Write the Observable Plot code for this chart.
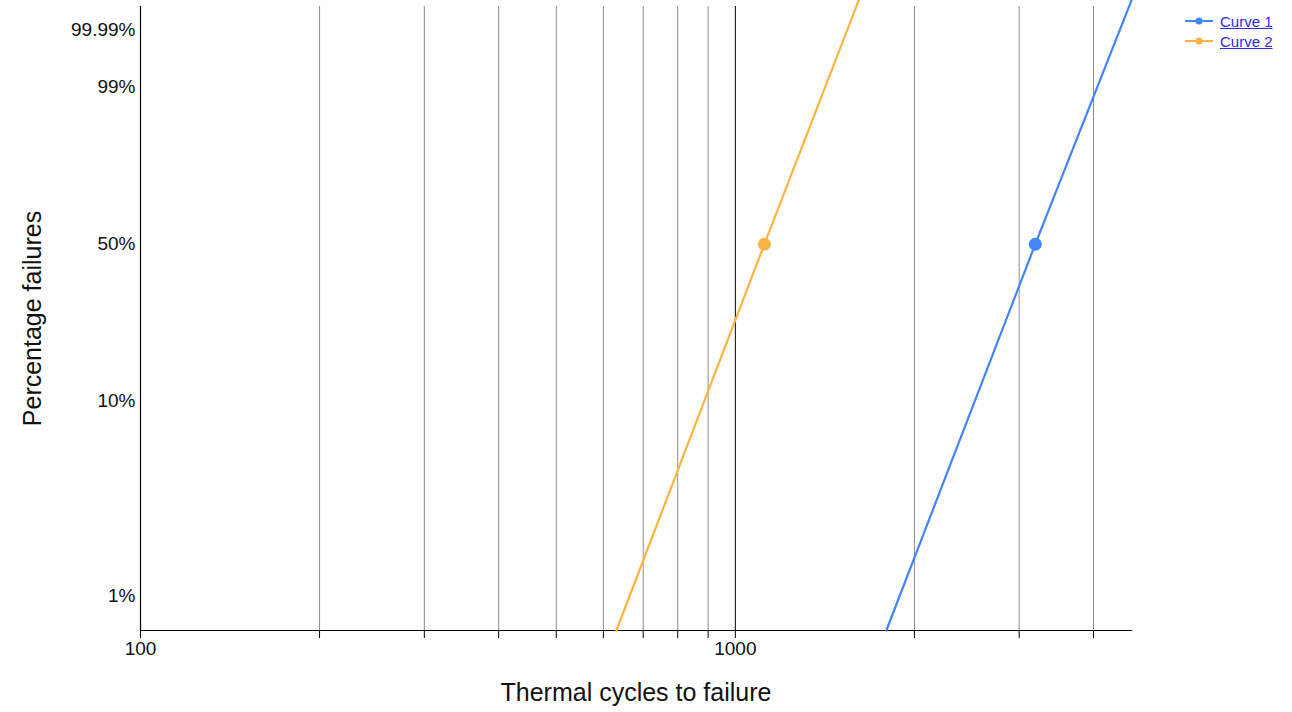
<!DOCTYPE html>
<html>
<head>
<meta charset="utf-8">
<script src="https://cdn.jsdelivr.net/npm/d3@7"></script>
<script src="https://cdn.jsdelivr.net/npm/@observablehq/plot@0.6"></script>
<style>
  html, body { margin: 0; padding: 0; background: #fff; }
  #wrap { position: relative; width: 1292px; height: 712px; font-family: "Liberation Sans", Arial, sans-serif; }
  #legend { position: absolute; left: 1185px; top: 11px; font-size: 15px; }
  .row { display: flex; align-items: center; height: 20px; }
  .row svg { margin-right: 7px; }
  .row span { color: #2b2bee; text-decoration: underline; }
</style>
</head>
<body>
<div id="wrap"><div id="legend"></div></div>
<script>
// ---- data ----
const seriesNames = ["Curve 1", "Curve 2"];
const seriesColors = ["#4285f4", "#fbb443"];
// line end points: cycles and percentage failed
const curve1Cycles = [1794, 3193, 4634];
const curve1Pct = [0.6585, 50, 99.99979];
const curve2Cycles = [631, 1119, 1612];
const curve2Pct = [0.6585, 50, 99.99979];
// marked points (median)
const pointCycles = [3193, 1119];
const pointPct = [50, 50];
// ticks
const xGridTicks = [200, 300, 400, 500, 600, 700, 800, 900, 2000, 3000, 4000];
const xAllTicks = [100, 200, 300, 400, 500, 600, 700, 800, 900, 1000, 2000, 3000, 4000];
const xLabeled = [100, 1000];
const yTickPct = [1, 10, 50, 99, 99.99];
const yTickLabels = ["1%", "10%", "50%", "99%", "99.99%"];
const xDomain = [100, 4634];
const yDomainPct = [0.6585, 99.99947];

// Weibull probability-paper transform
const w = p => Math.log(-Math.log(1 - p / 100));

const rows = [];
curve1Cycles.forEach((c, i) => rows.push({series: seriesNames[0], cycles: c, pct: curve1Pct[i]}));
curve2Cycles.forEach((c, i) => rows.push({series: seriesNames[1], cycles: c, pct: curve2Pct[i]}));
const pts = pointCycles.map((c, i) => ({series: seriesNames[i], cycles: c, pct: pointPct[i]}));

const yTicks = yTickPct.map(w);

const chart = Plot.plot({
  width: 1292,
  height: 712,
  marginLeft: 140,
  marginRight: 161,
  marginTop: 6,
  marginBottom: 82,
  style: {fontFamily: "'Liberation Sans', Arial, sans-serif", fontSize: "19px", color: "#111", background: "transparent", overflow: "visible"},
  x: {type: "log", domain: xDomain},
  y: {type: "linear", domain: yDomainPct.map(w)},
  color: {domain: seriesNames, range: seriesColors},
  marks: [
    Plot.ruleX(xGridTicks, {stroke: "#8c8c8c", strokeWidth: 1, strokeOpacity: 1}),
    Plot.ruleX([1000], {stroke: "#000", strokeWidth: 1}),
    Plot.ruleX([100], {stroke: "#000", strokeWidth: 1.2}),
    Plot.frame({anchor: "bottom", stroke: "#000", strokeWidth: 1.2}),
    Plot.axisX({ticks: xAllTicks, tickSize: 8, tickPadding: 3, stroke: "#000", fill: "#111", fontSize: 19,
      tickFormat: d => xLabeled.includes(d) ? String(d) : "", label: null}),
    Plot.axisY({ticks: yTicks, tickSize: 0, tickPadding: 5, fill: "#111", fontSize: 19,
      tickFormat: d => yTickLabels[yTicks.indexOf(d)], label: null}),
    Plot.text(["Percentage failures"], {frameAnchor: "left", textAnchor: "middle", text: d => d, rotate: -90, dx: -108, fontSize: 25, fill: "#111"}),
    Plot.text(["Thermal cycles to failure"], {frameAnchor: "bottom", textAnchor: "middle", text: d => d, dy: 63 + 7, fontSize: 25, fill: "#111"}),
    Plot.line(rows, {x: "cycles", y: d => w(d.pct), z: "series", stroke: "series", strokeWidth: 2.2}),
    Plot.dot(pts, {x: "cycles", y: d => w(d.pct), fill: "series", r: 6.5})
  ]
});
document.getElementById("wrap").prepend(chart);

const legend = document.getElementById("legend");
seriesNames.forEach((name, i) => {
  const row = document.createElement("div");
  row.className = "row";
  row.innerHTML = `<svg width="28" height="10"><line x1="0" y1="5" x2="28" y2="5" stroke="${seriesColors[i]}" stroke-width="2"/><circle cx="14" cy="5" r="3.5" fill="${seriesColors[i]}"/></svg><span>${name}</span>`;
  legend.appendChild(row);
});
</script>
</body>
</html>
